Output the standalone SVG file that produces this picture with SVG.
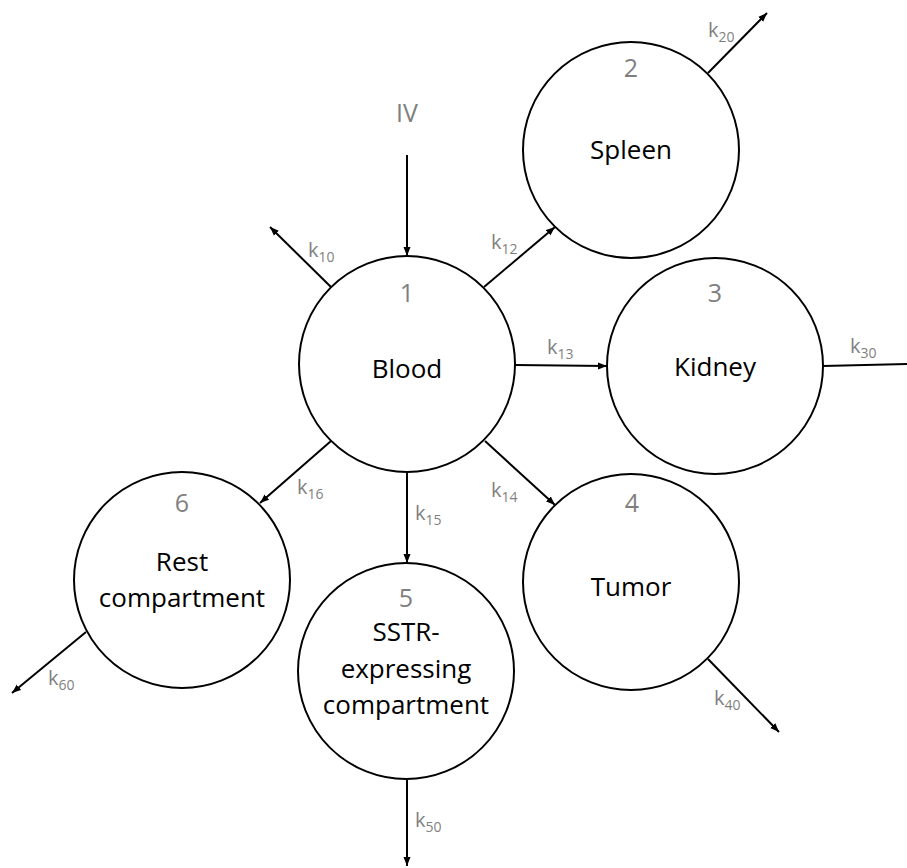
<svg xmlns="http://www.w3.org/2000/svg" width="907" height="868" viewBox="0 0 907 868">
<style>
.node{fill:#fff;stroke:#000;stroke-width:2}
.name{font-family:"Open Sans","Liberation Sans",sans-serif;font-size:26px;fill:#000;text-anchor:middle}
.num{font-family:"Open Sans","Liberation Sans",sans-serif;font-size:25px;fill:#7f7f7f;text-anchor:middle}
.k{font-family:"Open Sans","Liberation Sans",sans-serif;font-size:20px;fill:#7f7f7f}
.sub{font-size:14px}
.edge{stroke:#000;stroke-width:2;fill:none;marker-end:url(#ah)}
.edge2{stroke:#000;stroke-width:2;fill:none}
</style>
<defs>
<marker id="ah" markerUnits="userSpaceOnUse" markerWidth="10" markerHeight="8" refX="9" refY="4" orient="auto">
<path d="M0,0.5 L9,4 L0,7.5 z" fill="#000"/>
</marker>
</defs>
<g id="connectors">
<line class="edge" x1="407" y1="155" x2="407" y2="256"/>
<line class="edge" x1="331" y1="287" x2="270" y2="227"/>
<line class="edge" x1="484" y1="287" x2="555" y2="227"/>
<line class="edge" x1="708" y1="73" x2="767" y2="13"/>
<line class="edge" x1="515" y1="365" x2="607" y2="366"/>
<line class="edge2" x1="823" y1="366" x2="907" y2="364"/>
<line class="edge" x1="331" y1="441" x2="260" y2="503"/>
<line class="edge" x1="407" y1="472" x2="407" y2="563"/>
<line class="edge" x1="485" y1="441" x2="555" y2="505"/>
<line class="edge" x1="86" y1="632" x2="12" y2="693"/>
<line class="edge" x1="708" y1="659" x2="779" y2="732"/>
<line class="edge" x1="407" y1="780" x2="407" y2="866"/>
<text class="num" x="407" y="122">IV</text>
<text class="k" x="308" y="257">k<tspan class="sub" dy="5">10</tspan></text>
<text class="k" x="491" y="249">k<tspan class="sub" dy="5">12</tspan></text>
<text class="k" x="708" y="37">k<tspan class="sub" dy="5">20</tspan></text>
<text class="k" x="547" y="354">k<tspan class="sub" dy="5">13</tspan></text>
<text class="k" x="850" y="353">k<tspan class="sub" dy="5">30</tspan></text>
<text class="k" x="297" y="494">k<tspan class="sub" dy="5">16</tspan></text>
<text class="k" x="491" y="497">k<tspan class="sub" dy="5">14</tspan></text>
<text class="k" x="415" y="520">k<tspan class="sub" dy="5">15</tspan></text>
<text class="k" x="48" y="685">k<tspan class="sub" dy="5">60</tspan></text>
<text class="k" x="714" y="705">k<tspan class="sub" dy="5">40</tspan></text>
<text class="k" x="415" y="827">k<tspan class="sub" dy="5">50</tspan></text>
</g>
<g id="node1">
<circle class="node" cx="407" cy="364" r="108"/>
<text class="num" x="407" y="302">1</text>
<text class="name" x="407" y="378">Blood</text>
</g>
<g id="node2">
<circle class="node" cx="631" cy="150" r="108"/>
<text class="num" x="631" y="77">2</text>
<text class="name" x="631" y="159">Spleen</text>
</g>
<g id="node3">
<circle class="node" cx="715" cy="366" r="108"/>
<text class="num" x="715" y="302">3</text>
<text class="name" x="715" y="376">Kidney</text>
</g>
<g id="node4">
<circle class="node" cx="631" cy="582" r="108"/>
<text class="num" x="632" y="512">4</text>
<text class="name" x="631" y="596">Tumor</text>
</g>
<g id="node5">
<circle class="node" cx="406" cy="671" r="108"/>
<text class="num" x="406" y="607">5</text>
<text class="name" x="406" y="641">SSTR-</text>
<text class="name" x="406" y="678">expressing</text>
<text class="name" x="406" y="714">compartment</text>
</g>
<g id="node6">
<circle class="node" cx="182" cy="580" r="108"/>
<text class="num" x="182" y="512">6</text>
<text class="name" x="182" y="571">Rest</text>
<text class="name" x="182" y="607">compartment</text>
</g>
</svg>
